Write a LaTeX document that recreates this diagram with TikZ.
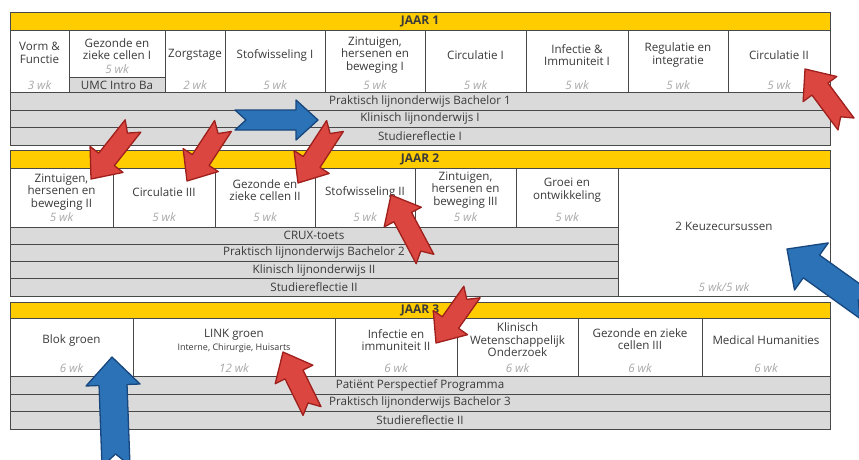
\documentclass[tikz,border=0pt]{standalone}
\usepackage{fontspec}
\setmainfont{Open Sans}
\definecolor{jaar}{HTML}{FFCC00}
\definecolor{barfill}{HTML}{DADADA}
\definecolor{lin}{HTML}{484848}
\definecolor{txt}{HTML}{3A3A3A}
\definecolor{wkc}{HTML}{A8A8A8}
\definecolor{redf}{HTML}{DB4640}
\definecolor{redd}{HTML}{9E1F1B}
\definecolor{bluef}{HTML}{2B72B6}
\definecolor{blued}{HTML}{17477E}
\tikzset{
  every node/.style={text=txt, font=\fontsize{11.6}{12.5}\selectfont, align=center, inner sep=0pt, outer sep=0pt},
  hdr/.style={fill=jaar, draw=lin, line width=0.8pt, font=\bfseries\fontsize{12}{12}\selectfont},
  cellst/.style={draw=lin, fill=white, line width=0.8pt},
  barst/.style={draw=lin, fill=barfill, line width=0.8pt},
  ttl/.style={},
  smalltxt/.style={font=\fontsize{9}{10}\selectfont},
  wks/.style={text=wkc, font=\itshape\fontsize{11.6}{12}\selectfont},
  redarr/.style={fill=redf, draw=redd, line width=1.3pt, line join=round},
  bluearr/.style={fill=bluef, draw=blued, line width=1.3pt, line join=round}
}
% name, x1, y1, x2, y2, style, text
\newcommand\cell[7]{\node[#6, minimum width={(#4)-(#2)}, minimum height={(#5)-(#3)}, anchor=north west] (#1) at (#2,#3) {#7};}
% style, xtail, ytail, xtip, ytip, shaft half width, head half width, head length, notch
\newcommand\fatarrow[9]{%
  \pgfmathsetmacro\fa{atan2(-((#5)-(#3)),(#4)-(#2))}%
  \pgfmathsetmacro\fl{veclen((#4)-(#2),(#5)-(#3))}%
  \begin{scope}[shift={(#2,#3)},rotate=\fa]
    \draw[#1] (0,#6) -- ({\fl-(#8)},#6) -- ({\fl-(#8)},#7) -- (\fl,0)
      -- ({\fl-(#8)},-#7) -- ({\fl-(#8)},-#6) -- (0,-#6) -- (#9,0) -- cycle;
  \end{scope}}
\begin{document}
\begin{tikzpicture}[x=1pt,y=-1pt]
\useasboundingbox (0,0) rectangle (859,459);
\fill[white] (0,0) rectangle (859,459);

% ---------------- JAAR 1 ----------------
\cell{h1}{10}{12}{830}{30}{hdr}{JAAR 1}
\cell{c11}{10}{30}{69}{92}{cellst}{}
\cell{c12}{69}{30}{165}{77}{cellst}{}
\cell{umc}{69}{77}{165}{92}{barst}{}
\cell{c13}{165}{30}{225}{92}{cellst}{}
\cell{c14}{225}{30}{325}{92}{cellst}{}
\cell{c15}{325}{30}{425}{92}{cellst}{}
\cell{c16}{425}{30}{526}{92}{cellst}{}
\cell{c17}{526}{30}{628}{92}{cellst}{}
\cell{c18}{628}{30}{728}{92}{cellst}{}
\cell{c19}{728}{30}{830}{92}{cellst}{}
\node[ttl] (t11) at (39.5,53) {Vorm \&\\Functie};
\node[ttl] (t12) at (117,49) {Gezonde en\\zieke cellen I};
\node[wks] (w12) at (117,69) {5 wk};
\node (umct) at (117,85) {UMC Intro Ba};
\node[ttl] (t13) at (195,55) {Zorgstage};
\node[ttl] (t14) at (275,55) {Stofwisseling I};
\node[ttl] (t15) at (375,55) {Zintuigen,\\hersenen en\\beweging I};
\node[ttl] (t16) at (475.5,55) {Circulatie I};
\node[ttl] (t17) at (577,55) {Infectie \&\\Immuniteit I};
\node[ttl] (t18) at (678,55) {Regulatie en\\integratie};
\node[ttl] (t19) at (779,55) {Circulatie II};
\node[wks] (w11) at (39.5,85) {3 wk};
\node[wks] (w13) at (195,85) {2 wk};
\node[wks] (w14) at (275,85) {5 wk};
\node[wks] (w15) at (375,85) {5 wk};
\node[wks] (w16) at (475.5,85) {5 wk};
\node[wks] (w17) at (577,85) {5 wk};
\node[wks] (w18) at (678,85) {5 wk};
\node[wks] (w19) at (779,85) {5 wk};
\cell{b11}{10}{92}{830}{110}{barst}{Praktisch lijnonderwijs Bachelor 1}
\cell{b12}{10}{110}{830}{127.5}{barst}{Klinisch lijnonderwijs I}
\cell{b13}{10}{127.5}{830}{145}{barst}{Studiereflectie I}

% ---------------- JAAR 2 ----------------
\cell{h2}{10}{150}{830}{168}{hdr}{JAAR 2}
\cell{c21}{10}{168}{113}{227}{cellst}{}
\cell{c22}{113}{168}{215}{227}{cellst}{}
\cell{c23}{215}{168}{315}{227}{cellst}{}
\cell{c24}{315}{168}{415}{227}{cellst}{}
\cell{c25}{415}{168}{516}{227}{cellst}{}
\cell{c26}{516}{168}{618}{227}{cellst}{}
\cell{k2}{618}{168}{830}{296}{cellst}{}
\node[ttl] (t21) at (61.5,192) {Zintuigen,\\hersenen en\\beweging II};
\node[ttl] (t22) at (164,192) {Circulatie III};
\node[ttl] (t23) at (265,190) {Gezonde en\\zieke cellen II};
\node[ttl] (t24) at (365,192) {Stofwisseling II};
\node[ttl] (t25) at (465.5,190) {Zintuigen,\\hersenen en\\beweging III};
\node[ttl] (t26) at (567,190) {Groei en\\ontwikkeling};
\node[wks] (w21) at (61.5,217) {5 wk};
\node[wks] (w22) at (164,217) {5 wk};
\node[wks] (w23) at (265,217) {5 wk};
\node[wks] (w24) at (365,217) {5 wk};
\node[wks] (w25) at (465.5,217) {5 wk};
\node[wks] (w26) at (567,217) {5 wk};
\node[ttl] (tk2) at (724,226) {2 Keuzecursussen};
\node[wks] (wk2) at (724,287) {5 wk/5 wk};
\cell{b21}{10}{227}{618}{244}{barst}{CRUX-toets}
\cell{b22}{10}{244}{618}{261.5}{barst}{Praktisch lijnonderwijs Bachelor 2}
\cell{b23}{10}{261.5}{618}{278.5}{barst}{Klinisch lijnonderwijs II}
\cell{b24}{10}{278.5}{618}{296}{barst}{Studiereflectie II}

% ---------------- JAAR 3 ----------------
\cell{h3}{10}{302}{830}{318}{hdr}{JAAR 3}
\cell{c31}{10}{318}{133}{376}{cellst}{}
\cell{c32}{133}{318}{335}{376}{cellst}{}
\cell{c33}{335}{318}{457}{376}{cellst}{}
\cell{c34}{457}{318}{578}{376}{cellst}{}
\cell{c35}{578}{318}{702}{376}{cellst}{}
\cell{c36}{702}{318}{830}{376}{cellst}{}
\node[ttl] (t31) at (71.5,340) {Blok groen};
\node[ttl] (t32) at (234,335) {LINK groen};
\node[smalltxt] (s32) at (234,348) {Interne, Chirurgie, Huisarts};
\node[ttl] (t33) at (396,340) {Infectie en\\immuniteit II};
\node[ttl] (t34) at (517.5,340) {Klinisch\\Wetenschappelijk\\Onderzoek};
\node[ttl] (t35) at (640,339) {Gezonde en zieke\\cellen III};
\node[ttl] (t36) at (766,340) {Medical Humanities};
\node[wks] (w31) at (71.5,368) {6 wk};
\node[wks] (w32) at (234,368) {12 wk};
\node[wks] (w33) at (396,368) {6 wk};
\node[wks] (w34) at (517.5,368) {6 wk};
\node[wks] (w35) at (640,368) {6 wk};
\node[wks] (w36) at (766,368) {6 wk};
\cell{b31}{10}{376}{830}{394}{barst}{Patiënt Perspectief Programma}
\cell{b32}{10}{394}{830}{411}{barst}{Praktisch lijnonderwijs Bachelor 3}
\cell{b33}{10}{411}{830}{429}{barst}{Studiereflectie II}

% ---------------- arrows ----------------
\fatarrow{redarr}{846}{124}{805}{69}{10}{21}{25}{9}
\fatarrow{redarr}{133}{126}{91}{179}{10}{21}{25}{9}
\fatarrow{redarr}{223}{126}{187}{181}{10}{21}{25}{9}
\fatarrow{redarr}{335}{126}{298}{183}{10}{21}{25}{9}
\fatarrow{redarr}{425}{259}{391}{195}{10}{21}{25}{9}
\fatarrow{redarr}{472}{292}{436}{343}{10}{21}{25}{9}
\fatarrow{redarr}{312}{411}{283}{352}{10}{21}{25}{9}
\fatarrow{bluearr}{235}{120}{318}{120}{10}{20}{22}{11}
\fatarrow{bluearr}{868}{307}{787}{249}{14}{29}{30}{12}
\fatarrow{bluearr}{116}{466}{112}{357}{14}{27}{28}{12}
\end{tikzpicture}
\end{document}
